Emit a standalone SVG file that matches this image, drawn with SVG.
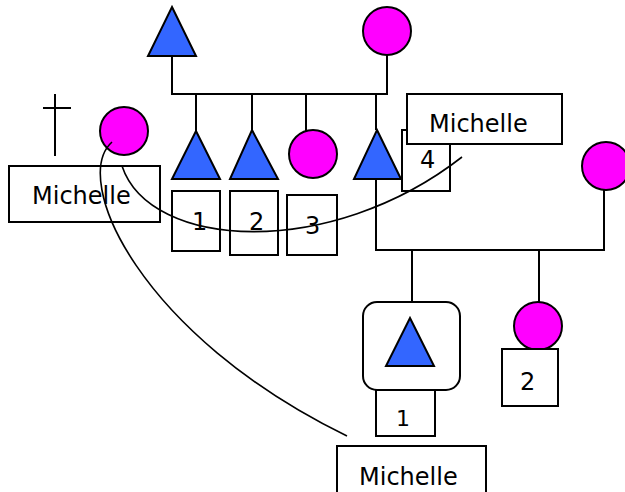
<svg xmlns="http://www.w3.org/2000/svg" width="625" height="492" viewBox="0 0 625 492">
<style>
.ln{fill:none;stroke:#000;stroke-width:2}
.cv{fill:none;stroke:#000;stroke-width:1.6}
.tri{fill:#3366ff;stroke:#000;stroke-width:2;stroke-linejoin:miter}
.cir{fill:#ff00ff;stroke:#000;stroke-width:2}
.box{fill:#fff;stroke:#000;stroke-width:2}
.t{font-family:"DejaVu Sans",Verdana,sans-serif;font-size:24px;fill:#000}
.ts{font-family:"DejaVu Sans",Verdana,sans-serif;font-size:22px;fill:#000}
</style>
<rect width="625" height="492" fill="#fff"/>
<g id="connectors">
<path class="ln" d="M172,56V94H387V55"/>
<path class="ln" d="M196,94V131M252,94V130M306,94V131M376,94V130"/>
<path class="ln" d="M376,179V250H604V190"/>
<path class="ln" d="M412,250V302M539,250V302"/>
<path class="ln" d="M55,94V156M43,108H71"/>
</g>
<g id="grandfather"><polygon class="tri" points="172,7 196,56 148,56"/></g>
<g id="grandmother"><circle class="cir" cx="387" cy="31" r="24"/></g>
<g id="left-woman"><circle class="cir" cx="124" cy="131" r="24"/></g>
<g id="left-label"><rect class="box" x="9" y="166" width="151" height="56"/><text class="t" x="32" y="204">Michelle</text></g>
<g id="child1"><polygon class="tri" points="196,131 220,179 172,179"/><rect class="box" x="172" y="191" width="48" height="60"/><text class="t" x="192" y="230">1</text></g>
<g id="child2"><polygon class="tri" points="252,130 278,179 230,179"/><rect class="box" x="230" y="191" width="48" height="64"/><text class="t" x="249" y="230">2</text></g>
<g id="child3"><circle class="cir" cx="313" cy="154" r="24"/><rect class="box" x="287" y="195" width="50" height="60"/><text class="t" x="305" y="234">3</text></g>
<g id="child4"><polygon class="tri" points="377,130 401,179 354,179"/><rect class="box" x="402" y="130" width="48" height="61"/><text class="t" x="420" y="168">4</text></g>
<g id="top-label"><rect class="box" x="407" y="94" width="155" height="50"/><text class="t" x="429" y="132">Michelle</text></g>
<g id="spouse"><circle class="cir" cx="606" cy="166" r="24"/></g>
<g id="grandson"><rect class="box" x="363" y="302" width="97" height="88" rx="14"/><polygon class="tri" points="410,318 434,366 386,366"/><rect class="box" x="376" y="390" width="59" height="46"/><text class="ts" x="396" y="426">1</text></g>
<g id="granddaughter"><circle class="cir" cx="538" cy="326" r="24"/><rect class="box" x="502" y="349" width="56" height="57"/><text class="t" x="520" y="390">2</text></g>
<g id="bottom-label"><rect class="box" x="337" y="446" width="149" height="60"/><text class="t" x="359" y="485">Michelle</text></g>
<g id="curves">
<path class="cv" d="M112,142C70,180 140,335 347,436"/>
<path class="cv" d="M122,166C150,250 330,260 462,157"/>
</g>
</svg>
